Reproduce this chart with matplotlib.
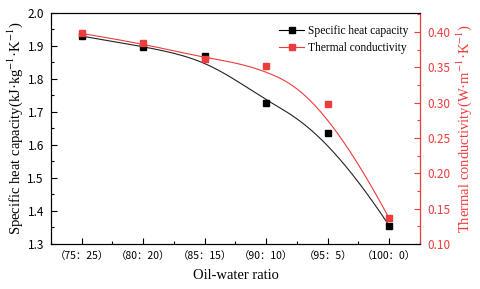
import numpy as np
import matplotlib
matplotlib.use("Agg")
import matplotlib.pyplot as plt
from matplotlib.ticker import MultipleLocator, FuncFormatter

# data
ratios = ["（75：25）", "（80：20）", "（85：15）", "（90：10）", "（95：5）", "（100：0）"]
heat_capacity = [1.930, 1.898, 1.870, 1.727, 1.636, 1.355]
conductivity = [0.398, 0.384, 0.362, 0.352, 0.298, 0.136]

red = "#ee3b3b"
serif = "Liberation Serif"
tickfont = ["Noto Sans CJK SC", "DejaVu Sans"]
plt.rcParams["mathtext.fontset"] = "stix"


def basis(i, k, t, knots):
    # Cox-de Boor recursion
    if k == 0:
        hi = knots[i + 1]
        if hi == knots[-1]:
            return ((t >= knots[i]) & (t <= hi)).astype(float)
        return ((t >= knots[i]) & (t < hi)).astype(float)
    out = np.zeros_like(t)
    d1 = knots[i + k] - knots[i]
    d2 = knots[i + k + 1] - knots[i + 1]
    if d1 > 0:
        out += (t - knots[i]) / d1 * basis(i, k - 1, t, knots)
    if d2 > 0:
        out += (knots[i + k + 1] - t) / d2 * basis(i + 1, k - 1, t, knots)
    return out


def bspline(px, py, deg=3, num=200):
    # clamped B-spline using the points as control points (Origin "B-Spline" line)
    n = len(px)
    inner = list(range(1, n - deg))
    knots = np.array([0] * (deg + 1) + inner + [n - deg] * (deg + 1), dtype=float)
    t = np.linspace(0, knots[-1], num)
    B = np.array([basis(i, deg, t, knots) for i in range(n)])
    return B.T @ np.asarray(px, float), B.T @ np.asarray(py, float)


x = np.arange(len(ratios))

fig = plt.figure(figsize=(4.8, 2.89), dpi=100)
ax = fig.add_axes([0.106, 0.156, 0.769, 0.799])
ax2 = ax.twinx()

bx, by = bspline(x, heat_capacity)
rx, ry = bspline(x, conductivity)
ax.plot(bx, by, color="#222222", lw=0.8, zorder=2)
ax2.plot(rx, ry, color=red, lw=0.8, zorder=2)
ax.plot(x, heat_capacity, "s", color="black", ms=5, zorder=3)
ax2.plot(x, conductivity, "s", color=red, ms=5, zorder=3)

# legend proxies
h1, = ax.plot([], [], "-s", color="black", ms=5, lw=0.8)
h2, = ax.plot([], [], "-s", color=red, ms=5, lw=0.8)
ax.legend([h1, h2], ["Specific heat capacity", "Thermal conductivity"],
          loc="upper right", frameon=False, prop={"family": serif, "size": 8.3},
          handlelength=2.2, handletextpad=0.3, labelspacing=0.45,
          bbox_to_anchor=(0.99, 0.985), borderpad=0.2)

ax.set_xlim(-0.5, 5.5)
ax.set_ylim(1.3, 2.0)
ax2.set_ylim(0.10, 0.427)
ax.set_xticks(x)
ax.set_xticklabels(ratios, fontfamily=tickfont, fontsize=7.5)
ax.xaxis.set_minor_locator(MultipleLocator(0.5))
ax.yaxis.set_major_locator(MultipleLocator(0.1))
ax.yaxis.set_minor_locator(MultipleLocator(0.05))
ax2.yaxis.set_major_locator(MultipleLocator(0.05))
ax2.yaxis.set_minor_locator(MultipleLocator(0.025))
ax.yaxis.set_major_formatter(FuncFormatter(lambda v, p: "%.1f" % v))
ax2.yaxis.set_major_formatter(FuncFormatter(lambda v, p: "%.2f" % v))

for lab in ax.get_yticklabels() + ax2.get_yticklabels():
    lab.set_fontfamily(tickfont)
    lab.set_fontsize(8.5)

ax.tick_params(which="both", direction="in", top=False, right=False)
ax.tick_params(which="major", length=4, width=0.8, pad=5)
ax.tick_params(which="minor", length=2, width=0.8)
ax2.tick_params(axis="y", which="both", direction="in", colors=red, labelcolor=red)
ax2.tick_params(which="major", length=4, width=0.8, pad=5)
ax2.tick_params(which="minor", length=2, width=0.8)
ax2.spines["right"].set_color(red)
for s in ["left", "top", "bottom", "right"]:
    ax.spines[s].set_linewidth(0.8)
    ax2.spines[s].set_linewidth(0.8)

ax.set_xlabel("Oil-water ratio", fontfamily=serif, fontsize=10.5, labelpad=6)
ax.set_ylabel("Specific heat capacity(kJ·kg$^{-1}$·K$^{-1}$)", fontfamily=serif,
              fontsize=10.5, labelpad=2)
ax2.set_ylabel("Thermal conductivity(W·m$^{-1}$·K$^{-1}$)", fontfamily=serif,
               fontsize=10.5, color=red, labelpad=3)

fig.savefig("out.png", dpi=100)
